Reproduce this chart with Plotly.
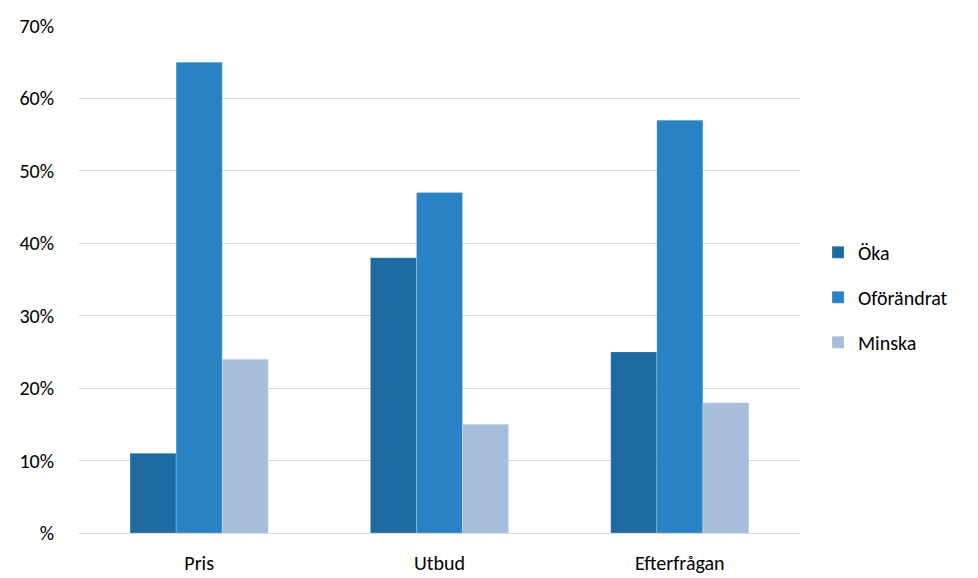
import plotly.graph_objects as go

categories = ["Pris", "Utbud", "Efterfrågan"]
series_names = ["Öka", "Oförändrat", "Minska"]
oka = [11, 38, 25]
oforandrat = [65, 47, 57]
minska = [24, 15, 18]
colors = ["#1F69A1", "#2882C4", "#A8BDDB"]
tick_vals = [0, 10, 20, 30, 40, 50, 60, 70]
tick_text = ["%", "10%", "20%", "30%", "40%", "50%", "60%", "70%"]

fig = go.Figure()
for name, vals, col in zip(series_names, [oka, oforandrat, minska], colors):
    fig.add_trace(go.Bar(
        name=name, x=categories, y=vals, legendgroup=name,
        marker=dict(color=col, line=dict(color="rgba(255,255,255,0.35)", width=0.6)),
    ))

font_family = "Carlito, Calibri, Lato, sans-serif"
fig.update_layout(
    width=978, height=578,
    barmode="group", bargap=0.425, bargroupgap=0,
    plot_bgcolor="white", paper_bgcolor="white",
    margin=dict(l=79, r=178, t=26, b=45, autoexpand=False),
    font=dict(family=font_family, size=20, color="#000000"),
    showlegend=True,
    legend=dict(
        x=1.025, y=0.465, xanchor="left", yanchor="middle",
        font=dict(size=20), traceorder="grouped", tracegroupgap=16,
        itemwidth=30, bgcolor="rgba(0,0,0,0)",
    ),
    xaxis=dict(showgrid=False, showline=False, ticks="outside", ticklen=12,
               tickcolor="rgba(0,0,0,0)", tickfont=dict(size=20), automargin=False),
    yaxis=dict(
        range=[0, 70], tickvals=tick_vals, ticktext=tick_text,
        showgrid=True, gridcolor="#D9D9D9", gridwidth=1,
        zeroline=True, zerolinecolor="#D9D9D9", zerolinewidth=1,
        showline=False, ticks="outside", ticklen=20, tickcolor="rgba(0,0,0,0)",
        tickfont=dict(size=20), automargin=False,
    ),
)
fig.write_html("out.html")
